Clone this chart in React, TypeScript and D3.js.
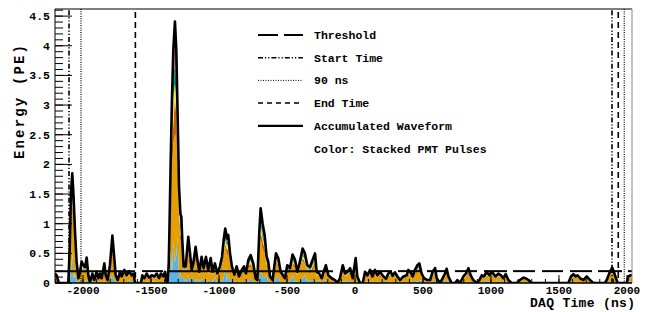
import * as d3 from "d3"

// accumulated waveform vertices (ns, PE)
const times = [
  -2206, -2194, -2177, -2108, -2098, -2088, -2079, -2069, -2059, -2047, -2034, -2022, -2010, -1998,
  -1985, -1973, -1961, -1949, -1931, -1917, -1900, -1887, -1875, -1863, -1843, -1833, -1819, -1802,
  -1784, -1770, -1760, -1745, -1728, -1716, -1696, -1679, -1662, -1642, -1628, -1618, -1574, -1564,
  -1549, -1532, -1515, -1495, -1476, -1458, -1441, -1427, -1409, -1397, -1385, -1378, -1370, -1365,
  -1356, -1346, -1336, -1324, -1314, -1304, -1294, -1284, -1277, -1270, -1260, -1245, -1226, -1213,
  -1201, -1189, -1172, -1159, -1145, -1128, -1113, -1096, -1079, -1061, -1047, -1030, -1012, -993,
  -978, -966, -954, -941, -932, -919, -905, -887, -870, -853, -833, -816, -802, -784, -767, -748,
  -731, -718, -704, -694, -679, -664, -650, -638, -625, -606, -581, -564, -547, -515, -498, -478,
  -459, -441, -424, -405, -385, -368, -351, -331, -294, -282, -263, -245, -214, -196, -172, -147,
  -130, -111, -90, -73, -56, -36, -17, 5, 17, 37, 57, 74, 91, 111, 128, 147, 165, 184, 209, 228,
  245, 263, 277, 294, 312, 331, 356, 380, 392, 410, 424, 441, 459, 473, 490, 508, 532, 552, 571,
  589, 601, 625, 638, 662, 674, 687, 711, 736, 753, 772, 797, 816, 834, 851, 870, 895, 915, 932,
  949, 968, 988, 1000, 1017, 1034, 1054, 1074, 1091, 1108, 1128, 1152, 1189, 1213, 1238, 1255,
  1275, 1299, 1569, 1588, 1606, 1623, 1637, 1655, 1679, 1704, 1728, 1753, 1838, 1851, 1875, 1892,
  1912, 1931, 1998, 2010, 2025, 2037,
]
const energy = [
  0.16, 0.13, 0, 0, 0.58, 1.54, 1.85, 1.43, 0.87, 0.36, 0.08, 0.19, 0.36, 0.3,
  0.27, 0.43, 0.13, 0.01, 0.16, 0.05, 0.19, 0.08, 0.16, 0.08, 0.33, 0.13, 0.05, 0.3,
  0.8, 0.42, 0.13, 0.05, 0.19, 0.11, 0.22, 0.13, 0.2, 0.13, 0.16, 0, 0, 0.13,
  0.08, 0.16, 0.09, 0.13, 0.11, 0.16, 0.08, 0.16, 0.11, 0.19, 0.02, 0.02, 0.3, 0.84,
  1.96, 3.09, 3.93, 4.41, 3.93, 2.8, 1.62, 1.17, 1.12, 0.72, 0.28, 0.28, 0.78, 0.5,
  0.22, 0.33, 0.61, 0.39, 0.19, 0.44, 0.25, 0.44, 0.22, 0.42, 0.19, 0.33, 0.16, 0.28,
  0.44, 0.72, 0.92, 0.75, 0.81, 0.5, 0.28, 0.14, 0.28, 0.11, 0.22, 0.28, 0.16, 0.39, 0.47, 0.33,
  0.08, 0.05, 0.84, 1.26, 1.0, 0.8, 0.45, 0.36, 0.11, 0.05, 0.5, 0.42, 0.19, 0.08, 0.3, 0.25,
  0.48, 0.39, 0.19, 0.36, 0.58, 0.5, 0.3, 0.27, 0.5, 0.19, 0.16, 0.08, 0.3, 0.13, 0.08, 0.05,
  0, 0.08, 0.3, 0.16, 0.19, 0.25, 0.08, 0.42, 0.11, 0, 0, 0.19, 0.13, 0.22, 0.11, 0.22, 0.13, 0.19, 0.11, 0.07,
  0.16, 0.19, 0.12, 0.18, 0.11, 0.05, 0.11, 0.13, 0.22, 0.18, 0.11, 0.22, 0.3, 0.33, 0.16, 0.08, 0.05, 0.05, 0.19,
  0.25, 0.08, 0, 0.05, 0.16, 0.24, 0.11, 0, 0, 0.05, 0, 0.11, 0.16, 0.25, 0.13, 0.05, 0, 0.05, 0.13,
  0.11, 0.19, 0.13, 0.18, 0.16, 0.11, 0.16, 0.13, 0.08, 0.15, 0.05, 0, 0, 0.05, 0.09, 0.08,
  0.05, 0, 0, 0.11, 0.15, 0.11, 0.13, 0.08, 0.05, 0.11, 0.05, 0, 0, 0.05, 0.19, 0.26,
  0.13, 0, 0, 0.11, 0.13, 0.13,
]

// PMT colours (stack order bottom -> top) and rough shares of each pulse
const pmtColors = ["#56B4E9", "#E69F00", "#D55E00", "#F0E442", "#009E73", "#CC79A7", "#0072B2"]
const pmtShares = [
  [0.12, 0.52, 0.08, 0.08, 0.06, 0.09, 0.05],
  [0.28, 0.38, 0.05, 0.07, 0.09, 0.09, 0.04],
  [0.04, 0.58, 0.13, 0.1, 0.05, 0.06, 0.04],
  [0.18, 0.42, 0.08, 0.12, 0.1, 0.05, 0.05],
  [0.08, 0.48, 0.15, 0.05, 0.07, 0.12, 0.05],
]

const threshold = 0.2
const thresholdSegments = [
  [-2206, -1617], [-1566, -1412], [-1368, -162], [-96, 0], [103, 272], [316, 478], [529, 684],
  [735, 897], [949, 1118], [1162, 1324], [1375, 1529], [1581, 1743], [1787, 1963], [2007, 2037],
]
const startTimes = [-2103, 1890]
const ninetyTimes = [-2015, 1980]
const endTimes = [-1615, 1936]

const xTicks = [-2000, -1500, -1000, -500, 0, 500, 1000, 1500, 2000]
const yTicks = [0, 0.5, 1, 1.5, 2, 2.5, 3, 3.5, 4, 4.5]

const legendItems = [
  { label: "Threshold", dash: "20 6", w: 2 },
  { label: "Start Time", dash: "5 2 1.2 2 1.2 2", w: 1.5 },
  { label: "90 ns", dash: "1 1.5", w: 1 },
  { label: "End Time", dash: "5 4", w: 1.5 },
  { label: "Accumulated Waveform", dash: "", w: 2.2 },
  { label: "Color: Stacked PMT Pulses", dash: null, w: 0 },
]

const W = 655
const H = 312
const L = 55
const R = 632
const T = 9
const B = 283
const font = "'Liberation Mono', 'DejaVu Sans Mono', monospace"

export default function App() {
  const x = d3.scaleLinear().domain([-2206, 2037]).range([L, R])
  const y = d3.scaleLinear().domain([0, 4.62]).range([B, T])

  const keys = pmtColors.map((_, k) => `p${k}`)
  const rows = times.map((t, i) => {
    const row: Record<string, number> = { t }
    const share = pmtShares[i % pmtShares.length]
    keys.forEach((k, j) => (row[k] = energy[i] * share[j]))
    return row
  })
  const layers = d3.stack<Record<string, number>>().keys(keys)(rows)
  const area = d3
    .area<d3.SeriesPoint<Record<string, number>>>()
    .x((d) => x(d.data.t))
    .y0((d) => y(d[0]))
    .y1((d) => y(d[1]))
  const line = d3
    .line<number>()
    .x((_, i) => x(times[i]))
    .y((d) => y(d))

  const minorY = d3.range(0, 4.61, 0.1)
  const minorX = d3.range(-2200, 2037, 100)
  const vTop = y(4.6)

  return (
    <svg
      width={W}
      height={H}
      style={{ position: "absolute", left: 0, top: 0, background: "#fff" }}
      fontFamily={font}
      fontWeight="bold"
    >
      <defs>
        <clipPath id="plot">
          <rect x={L} y={T} width={R - L} height={B - T} />
        </clipPath>
      </defs>

      <g clipPath="url(#plot)">
        {layers.map((s, k) => (
          <path key={s.key} d={area(s) ?? ""} fill={pmtColors[k]} />
        ))}
        <path d={line(energy) ?? ""} fill="none" stroke="#000" strokeWidth={2.6} strokeLinejoin="round" />
        {thresholdSegments.map(([a, b]) => (
          <line key={a} x1={x(a)} x2={x(b)} y1={y(threshold)} y2={y(threshold)} stroke="#000" strokeWidth={2} />
        ))}
        {startTimes.map((t) => (
          <line key={`s${t}`} x1={x(t)} x2={x(t)} y1={vTop} y2={B} stroke="#000" strokeWidth={1.6} strokeDasharray="5 2 1.2 2 1.2 2" />
        ))}
        {ninetyTimes.map((t) => (
          <line key={`n${t}`} x1={x(t)} x2={x(t)} y1={T} y2={B} stroke="#000" strokeWidth={1.2} strokeDasharray="1 1.3" />
        ))}
        {endTimes.map((t) => (
          <line key={`e${t}`} x1={x(t)} x2={x(t)} y1={y(4.57)} y2={B} stroke="#000" strokeWidth={1.6} strokeDasharray="6 4" />
        ))}
      </g>

      {/* frame */}
      <line x1={L} x2={R} y1={T} y2={T} stroke="#000" strokeWidth={1} />
      <line x1={R} x2={R} y1={T} y2={B} stroke="#888" strokeWidth={1} />
      <line x1={L} x2={L} y1={T} y2={B} stroke="#000" strokeWidth={1} />
      <line x1={L} x2={R} y1={B} y2={B} stroke="#000" strokeWidth={1.5} />

      {/* y axis */}
      {minorY.map((v) => (
        <line key={`my${v}`} x1={L} x2={L + 8} y1={y(v)} y2={y(v)} stroke="#000" strokeWidth={1} />
      ))}
      {yTicks.map((v) => (
        <g key={`y${v}`}>
          <line x1={L} x2={L + 17} y1={y(v)} y2={y(v)} stroke="#000" strokeWidth={1} />
          <text x={L - 5} y={y(v)} dy="0.35em" textAnchor="end" fontSize={11.5}>
            {v}
          </text>
        </g>
      ))}

      {/* x axis */}
      {minorX.map((v) => (
        <line key={`mx${v}`} x1={x(v)} x2={x(v)} y1={B} y2={B - 4} stroke="#000" strokeWidth={1} />
      ))}
      {xTicks.map((v) => (
        <g key={`x${v}`}>
          <line x1={x(v)} x2={x(v)} y1={B} y2={B - 8} stroke="#000" strokeWidth={1} />
          <text x={x(v)} y={293.5} textAnchor="middle" fontSize={11}>
            {v}
          </text>
        </g>
      ))}

      <text x={635} y={306.5} textAnchor="end" fontSize={13} textLength={105}>
        DAQ Time (ns)
      </text>
      <text transform="translate(24,102) rotate(-90)" textAnchor="middle" fontSize={14} textLength={114}>
        Energy (PE)
      </text>

      {/* legend */}
      {legendItems.map((it, i) => {
        const ly = 35 + i * 22.7
        return (
          <g key={it.label}>
            {it.dash !== null && (
              <line x1={258} x2={303} y1={ly} y2={ly} stroke="#000" strokeWidth={it.w} strokeDasharray={it.dash || undefined} />
            )}
            <text x={314} y={ly} dy="0.35em" fontSize={11.5}>
              {it.label}
            </text>
          </g>
        )
      })}
    </svg>
  )
}
